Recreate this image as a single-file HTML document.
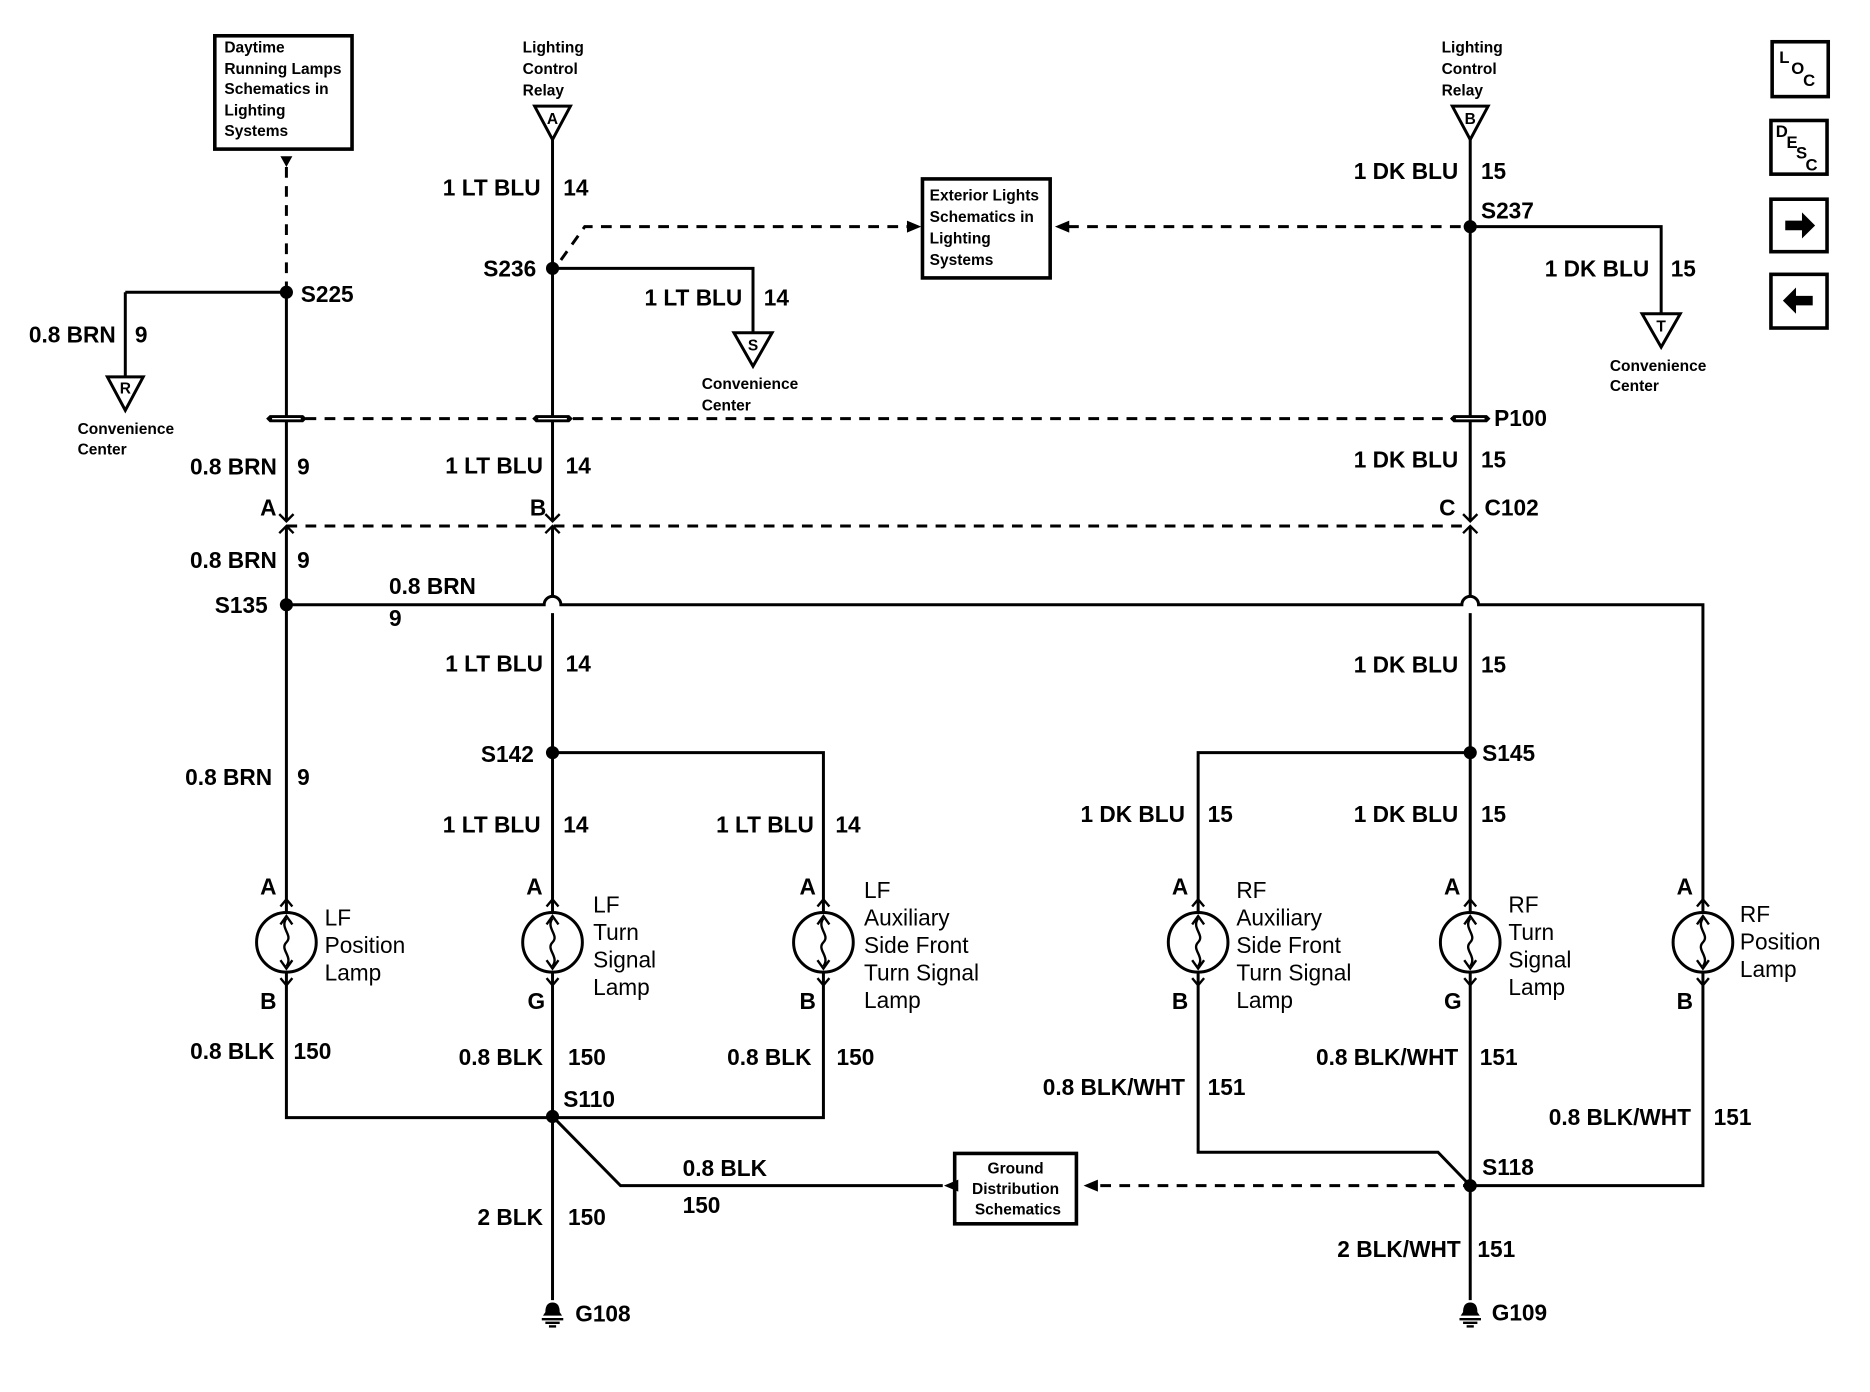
<!DOCTYPE html>
<html><head><meta charset="utf-8"><style>
html,body{margin:0;padding:0;background:#fff;}
svg{display:block}
text{font-family:"Liberation Sans",Arial,sans-serif;fill:#000;}
.w{font-size:19px;font-weight:bold;}
.s{font-size:13px;font-weight:bold;}
.l{font-size:19px;}
</style></head><body>
<svg width="1870" height="1392" viewBox="0 0 1567 1167" preserveAspectRatio="none" xmlns="http://www.w3.org/2000/svg">
<defs>
<g id="lamp">
 <circle cx="0" cy="0" r="25" fill="none" stroke="#000" stroke-width="2.5"/>
 <path d="M0,-20 C-6,-12 6,-6 0,0 C-6,6 6,12 0,20" fill="none" stroke="#000" stroke-width="2"/>
 <path d="M-5,-15 L0,-22 L5,-15 M-5,15 L0,22 L5,15" fill="none" stroke="#000" stroke-width="2"/>
 <path d="M-5,-30 L0,-36 L5,-30 M-5,30 L0,36 L5,30" fill="none" stroke="#000" stroke-width="2"/>
 <line x1="0" y1="-36" x2="0" y2="-25" stroke="#000" stroke-width="2.5"/>
 <line x1="0" y1="25" x2="0" y2="36" stroke="#000" stroke-width="2.5"/>
</g>
<g id="conn"><path d="M-14,-3 L14,-3 L17,0 L14,3 L-14,3 L-17,0 Z" fill="#000"/><line x1="-12" y1="0" x2="12" y2="0" stroke="#fff" stroke-width="1.2"/></g>
<g id="chev"><path d="M-6,-6 L0,0 L6,-6 M-6,10 L0,4 L6,10" fill="none" stroke="#000" stroke-width="2"/></g>
<g id="gnd"><path d="M-6,0 Q-6,-8 0,-8 Q6,-8 6,0 L8,3 L-8,3 Z" fill="#000"/><line x1="-9" y1="6" x2="9" y2="6" stroke="#000" stroke-width="2"/><line x1="-6" y1="9" x2="6" y2="9" stroke="#000" stroke-width="2"/><line x1="-3" y1="12" x2="3" y2="12" stroke="#000" stroke-width="2"/></g>
</defs>
<g stroke="#000" stroke-width="2.5" fill="none">
 <polyline points="240,245 240,437"/>
 <polyline points="240,441 240,754"/>
 <polyline points="105,245 240,245"/>
 <polyline points="105,245 105,316"/>
 <polyline points="240,826 240,937 690,937 690,826"/>
 <polyline points="690,754 690,631 463,631"/>
 <polyline points="463,116 463,437"/>
 <polyline points="463,441 463,500"/>
 <polyline points="463,514 463,754"/>
 <polyline points="463,826 463,1090"/>
 <polyline points="463,225 631,225 631,279"/>
 <polyline points="463,936 520,994 790,994"/>
 <path d="M240,507 L456,507 A7,7 0 0 1 470,507 L1225,507 A7,7 0 0 1 1239,507 L1427,507 L1427,754"/>
 <polyline points="1232,116 1232,437"/>
 <polyline points="1232,441 1232,500"/>
 <polyline points="1232,514 1232,754"/>
 <polyline points="1232,826 1232,1090"/>
 <polyline points="1232,190 1392,190 1392,263"/>
 <polyline points="1232,631 1004,631 1004,754"/>
 <polyline points="1004,826 1004,966 1205,966 1232,994"/>
 <polyline points="1427,826 1427,994 1232,994"/>
 <rect x="180" y="30" width="115" height="95" stroke-width="3"/>
 <rect x="773" y="150" width="107" height="83" stroke-width="3"/>
 <rect x="800" y="967" width="102" height="59" stroke-width="3"/>
 <path d="M448,89 L478,89 L463,117 Z"/>
 <path d="M1217,89 L1247,89 L1232,117 Z"/>
 <path d="M90,316 L120,316 L105,344 Z"/>
 <path d="M615,279 L647,279 L631,307 Z"/>
 <path d="M1376,263 L1408,263 L1392,291 Z"/>
</g>
<g stroke="#000" stroke-width="2.5" fill="none" stroke-dasharray="9,7">
 <line x1="240" y1="140" x2="240" y2="245"/>
 <line x1="240" y1="351" x2="1232" y2="351"/>
 <line x1="240" y1="441" x2="1232" y2="441"/>
 <polyline points="470,218 490,190 762,190"/>
 <line x1="895" y1="190" x2="1232" y2="190"/>
 <line x1="922" y1="994" x2="1232" y2="994"/>
</g>
<g fill="#000">
 <path d="M235,131 L245,131 L240,140 Z"/>
 <path d="M760,185 L772,190 L760,195 Z"/>
 <path d="M896,185 L884,190 L896,195 Z"/>
 <path d="M791,989 L779,994 L791,999 Z" transform="translate(12,0)"/>
 <path d="M920,989 L908,994 L920,999 Z"/>
 <circle cx="240" cy="245" r="5.5"/><circle cx="463" cy="225" r="5.5"/><circle cx="1232" cy="190" r="5.5"/>
 <circle cx="240" cy="507" r="5.5"/><circle cx="463" cy="631" r="5.5"/><circle cx="1232" cy="631" r="5.5"/>
 <circle cx="463" cy="936" r="5.5"/><circle cx="1232" cy="994" r="5.5"/>
</g>
<use href="#conn" x="240" y="351"/><use href="#conn" x="463" y="351"/><use href="#conn" x="1232" y="351"/>
<use href="#chev" x="240" y="437"/><use href="#chev" x="463" y="437"/><use href="#chev" x="1232" y="437"/>
<use href="#lamp" x="240" y="790"/><use href="#lamp" x="463" y="790"/><use href="#lamp" x="690" y="790"/>
<use href="#lamp" x="1004" y="790"/><use href="#lamp" x="1232" y="790"/><use href="#lamp" x="1427" y="790"/>
<use href="#gnd" x="463" y="1100"/><use href="#gnd" x="1232" y="1100"/>

<g class="s">
 <text x="188" y="44">Daytime</text><text x="188" y="62">Running Lamps</text><text x="188" y="79">Schematics in</text><text x="188" y="97">Lighting</text><text x="188" y="114">Systems</text>
 <text x="438" y="44">Lighting</text><text x="438" y="62">Control</text><text x="438" y="80">Relay</text>
 <text x="1208" y="44">Lighting</text><text x="1208" y="62">Control</text><text x="1208" y="80">Relay</text>
 <text x="779" y="168">Exterior Lights</text><text x="779" y="186">Schematics in</text><text x="779" y="204">Lighting</text><text x="779" y="222">Systems</text>
 <text x="851" y="984" text-anchor="middle">Ground</text><text x="851" y="1001" text-anchor="middle">Distribution</text><text x="853" y="1018" text-anchor="middle">Schematics</text>
 <text x="65" y="364">Convenience</text><text x="65" y="381">Center</text>
 <text x="588" y="326">Convenience</text><text x="588" y="344">Center</text>
 <text x="1349" y="311">Convenience</text><text x="1349" y="328">Center</text>
 <text x="463" y="104" text-anchor="middle">A</text><text x="1232" y="104" text-anchor="middle">B</text>
 <text x="105" y="330" text-anchor="middle">R</text><text x="631" y="294" text-anchor="middle">S</text><text x="1392" y="278" text-anchor="middle">T</text>
</g>
<g class="w">
 <text x="97" y="287" text-anchor="end">0.8 BRN</text><text x="113" y="287">9</text>
 <text x="232" y="398" text-anchor="end">0.8 BRN</text><text x="249" y="398">9</text>
 <text x="232" y="476" text-anchor="end">0.8 BRN</text><text x="249" y="476">9</text>
 <text x="326" y="498">0.8 BRN</text><text x="326" y="525">9</text>
 <text x="228" y="658" text-anchor="end">0.8 BRN</text><text x="249" y="658">9</text>
 <text x="230" y="888" text-anchor="end">0.8 BLK</text><text x="246" y="888">150</text>
 <text x="453" y="164" text-anchor="end">1 LT BLU</text><text x="472" y="164">14</text>
 <text x="622" y="256" text-anchor="end">1 LT BLU</text><text x="640" y="256">14</text>
 <text x="455" y="397" text-anchor="end">1 LT BLU</text><text x="474" y="397">14</text>
 <text x="455" y="563" text-anchor="end">1 LT BLU</text><text x="474" y="563">14</text>
 <text x="453" y="698" text-anchor="end">1 LT BLU</text><text x="472" y="698">14</text>
 <text x="682" y="698" text-anchor="end">1 LT BLU</text><text x="700" y="698">14</text>
 <text x="455" y="893" text-anchor="end">0.8 BLK</text><text x="476" y="893">150</text>
 <text x="680" y="893" text-anchor="end">0.8 BLK</text><text x="701" y="893">150</text>
 <text x="572" y="986">0.8 BLK</text><text x="572" y="1017">150</text>
 <text x="455" y="1027" text-anchor="end">2 BLK</text><text x="476" y="1027">150</text>
 <text x="1222" y="150" text-anchor="end">1 DK BLU</text><text x="1241" y="150">15</text>
 <text x="1382" y="232" text-anchor="end">1 DK BLU</text><text x="1400" y="232">15</text>
 <text x="1222" y="392" text-anchor="end">1 DK BLU</text><text x="1241" y="392">15</text>
 <text x="1222" y="564" text-anchor="end">1 DK BLU</text><text x="1241" y="564">15</text>
 <text x="993" y="689" text-anchor="end">1 DK BLU</text><text x="1012" y="689">15</text>
 <text x="1222" y="689" text-anchor="end">1 DK BLU</text><text x="1241" y="689">15</text>
 <text x="1222" y="893" text-anchor="end">0.8 BLK/WHT</text><text x="1240" y="893">151</text>
 <text x="993" y="918" text-anchor="end">0.8 BLK/WHT</text><text x="1012" y="918">151</text>
 <text x="1417" y="943" text-anchor="end">0.8 BLK/WHT</text><text x="1436" y="943">151</text>
 <text x="1224" y="1054" text-anchor="end">2 BLK/WHT</text><text x="1238" y="1054">151</text>
 <text x="252" y="253">S225</text><text x="405" y="232">S236</text><text x="1241" y="183">S237</text>
 <text x="1252" y="357">P100</text><text x="1244" y="432">C102</text>
 <text x="180" y="514">S135</text><text x="403" y="639">S142</text><text x="1242" y="638">S145</text>
 <text x="472" y="928">S110</text><text x="1242" y="985">S118</text>
 <text x="482" y="1108">G108</text><text x="1250" y="1107">G109</text>
 <text x="218" y="432">A</text><text x="444" y="432">B</text><text x="1206" y="432">C</text>
 <text x="218" y="750">A</text><text x="218" y="846">B</text>
 <text x="441" y="750">A</text><text x="442" y="846">G</text>
 <text x="670" y="750">A</text><text x="670" y="846">B</text>
 <text x="982" y="750">A</text><text x="982" y="846">B</text>
 <text x="1210" y="750">A</text><text x="1210" y="846">G</text>
 <text x="1405" y="750">A</text><text x="1405" y="846">B</text>
</g>
<g class="l">
 <text x="272" y="776">LF</text><text x="272" y="799">Position</text><text x="272" y="822">Lamp</text>
 <text x="497" y="765">LF</text><text x="497" y="788">Turn</text><text x="497" y="811">Signal</text><text x="497" y="834">Lamp</text>
 <text x="724" y="753">LF</text><text x="724" y="776">Auxiliary</text><text x="724" y="799">Side Front</text><text x="724" y="822">Turn Signal</text><text x="724" y="845">Lamp</text>
 <text x="1036" y="753">RF</text><text x="1036" y="776">Auxiliary</text><text x="1036" y="799">Side Front</text><text x="1036" y="822">Turn Signal</text><text x="1036" y="845">Lamp</text>
 <text x="1264" y="765">RF</text><text x="1264" y="788">Turn</text><text x="1264" y="811">Signal</text><text x="1264" y="834">Lamp</text>
 <text x="1458" y="773">RF</text><text x="1458" y="796">Position</text><text x="1458" y="819">Lamp</text>
</g>
<g stroke="#000" stroke-width="3" fill="none">
 <rect x="1485" y="35" width="47" height="46"/>
 <rect x="1484" y="101" width="47" height="45"/>
 <rect x="1484" y="167" width="47" height="44"/>
 <rect x="1484" y="230" width="47" height="45"/>
</g>
<g class="s" style="font-size:14px">
 <text x="1491" y="53">L</text><text x="1501" y="62">O</text><text x="1511" y="72">C</text>
 <text x="1488" y="115">D</text><text x="1497" y="124">E</text><text x="1505" y="133">S</text><text x="1513" y="143">C</text>
</g>
<path d="M1496,185 L1510,185 L1510,178 L1521,189 L1510,200 L1510,193 L1496,193 Z" fill="#000"/>
<path d="M1519,248 L1505,248 L1505,241 L1494,252 L1505,263 L1505,256 L1519,256 Z" fill="#000"/>
</svg>
</body></html>
